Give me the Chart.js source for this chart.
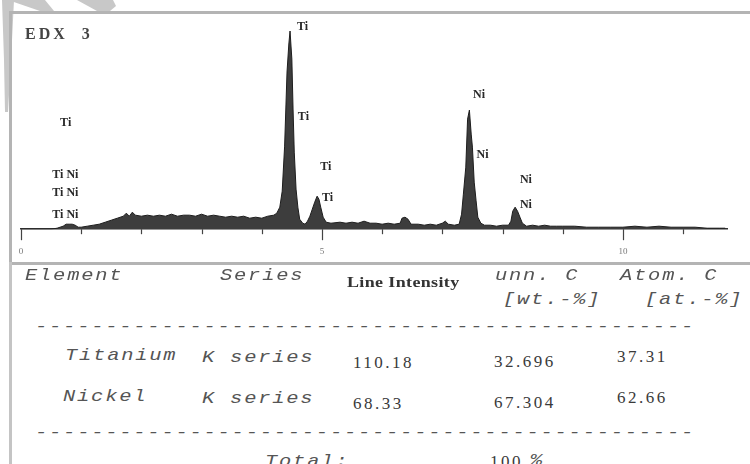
<!DOCTYPE html>
<html>
<head>
<meta charset="utf-8">
<script src="https://cdn.jsdelivr.net/npm/chart.js@4.4.1/dist/chart.umd.min.js"></script>
<style>
body { margin:0; width:750px; height:464px; overflow:hidden; background:#fff; position:relative; }
#frame { position:absolute; left:9px; top:11px; width:760px; height:248px; border:3px solid #b4b4b4; border-right:none; }
#tableLine { position:absolute; left:9px; top:262px; width:3px; height:210px; background:#c4c4c4; }
#wrap { position:absolute; left:0; top:0; width:750px; height:273px; }
#marks { position:absolute; left:0; top:0; }
.t { position:absolute; white-space:pre; color:#555; line-height:1; transform-origin:0 0; }
.mono { font-family:"Liberation Mono", monospace; font-style:italic; font-size:17px; letter-spacing:1.5px; transform:scaleX(1.2); }
.num { font-family:"Liberation Serif", serif; font-size:17px; letter-spacing:2.5px; color:#3a3a3a; }
.head { font-family:"Liberation Serif", serif; font-weight:bold; font-size:15px; letter-spacing:0.3px; color:#333; transform:scaleX(1.2); }
#title { left:25px; top:26px; font-family:"Liberation Serif", serif; font-weight:bold; font-size:16px; letter-spacing:3px; color:#444; }
</style>
</head>
<body>
<svg id="marks" width="130" height="120">
  <polygon points="2,0 14,0 11,60 8,112 5,112 4,60" fill="#c8c8c8"/>
  <polygon points="8,0 45,0 54,11 40,11" fill="#c8c8c8"/>
  <polygon points="77,0 113,0 116,6 110,11 97,11" fill="#c8c8c8"/>
</svg>
<div id="frame"></div>
<div id="tableLine"></div>
<div id="wrap"><canvas id="myChart"></canvas></div>
<div class="t" id="title">EDX  3</div>
<div id="table"></div>

<script>
// spectrum (energy in keV, counts in arbitrary units)
var energyKeV = [0.00, 0.50, 0.60, 0.70, 0.75, 0.80, 0.85, 0.90, 0.95, 1.00, 1.10, 1.20, 1.30, 1.40, 1.50, 1.60, 1.70, 1.75, 1.80, 1.85, 1.90,
	2.00, 2.10, 2.20, 2.30, 2.40, 2.50, 2.60, 2.70, 2.80, 2.90, 3.00, 3.10, 3.20, 3.30, 3.40, 3.50, 3.60, 3.70, 3.80, 3.90,
	4.00, 4.10, 4.20, 4.25, 4.30, 4.34, 4.38, 4.42, 4.45, 4.47, 4.50, 4.52, 4.54, 4.57, 4.60, 4.63, 4.68, 4.72, 4.76, 4.80,
	4.84, 4.88, 4.92, 4.95, 4.98, 5.02, 5.07, 5.15, 5.30, 5.40, 5.50, 5.60, 5.70, 5.80, 5.90, 6.00, 6.10, 6.20, 6.30, 6.33,
	6.38, 6.43, 6.48, 6.60, 6.70, 6.80, 6.90, 7.00, 7.05, 7.10, 7.20, 7.28, 7.32, 7.35, 7.39, 7.42, 7.45, 7.48, 7.50, 7.53,
	7.56, 7.59, 7.64, 7.70, 7.80, 7.90, 8.00, 8.10, 8.14, 8.17, 8.21, 8.25, 8.29, 8.33, 8.40, 8.50, 8.60, 8.70, 8.80, 8.90,
	9.00, 9.20, 9.40, 9.60, 9.80, 10.00, 10.20, 10.40, 10.60, 10.80, 11.00, 11.20, 11.40, 11.60, 11.70];
var counts = [0, 0, 1, 3, 5, 5, 5, 4, 2, 2, 3, 4, 5, 7, 9, 11, 13, 16, 13, 17, 14,
	13, 14, 13, 14, 13, 15, 13, 14, 14, 13, 15, 13, 14, 13, 12, 13, 12, 13, 11, 12,
	11, 13, 14, 16, 22, 38, 83, 157, 185, 198, 170, 120, 77, 40, 22, 10, 6, 5, 8, 13,
	20, 27, 33, 30, 22, 12, 7, 6, 7, 6, 7, 6, 8, 6, 6, 5, 6, 5, 6, 11,
	12, 10, 5, 5, 4, 5, 4, 6, 8, 5, 4, 5, 15, 35, 62, 110, 119, 95, 82, 47,
	29, 12, 6, 4, 4, 3, 4, 4, 8, 18, 22, 18, 12, 6, 3, 4, 3, 4, 3, 3,
	3, 3, 2, 2, 2, 2, 3, 2, 3, 2, 2, 2, 1, 1, 1];

var majorTicks = [0, 5, 10];
var minorTicks = [1, 2, 3, 4, 6, 7, 8, 9, 11];

// peak labels, anchored in energy / counts
var peakNames = ['Ti', 'Ti', 'Ti', 'Ti', 'Ti', 'Ti Ni', 'Ti Ni', 'Ti Ni', 'Ni', 'Ni', 'Ni', 'Ni'];
var peakEnergy = [4.585, 4.60, 4.97, 5.00, 0.65, 0.52, 0.52, 0.52, 7.51, 7.57, 8.29, 8.29];
var peakCount = [202, 112, 62, 31, 106, 54, 36, 14, 134, 74, 49, 24];

// quantification table
var headers = ['Element', 'Series', 'Line Intensity', 'unn. C', 'Atom. C'];
var units = ['[wt.-%]', '[at.-%]'];
var elements = ['Titanium', 'Nickel'];
var series = ['K series', 'K series'];
var lineIntensity = ['110.18', '68.33'];
var wtPercent = ['32.696', '67.304'];
var atPercent = ['37.31', '62.66'];
var totalWt = '100';

var peakText = {
	id: 'peakText',
	afterDatasetsDraw: function(chart) {
		var ctx = chart.ctx, x = chart.scales.x, y = chart.scales.y, area = chart.chartArea;
		ctx.save();
		ctx.strokeStyle = '#444';
		ctx.lineWidth = 1.2;
		// tick marks: long ones at 0, 5, 10, short ones every keV
		majorTicks.concat(minorTicks).forEach(function(v) {
			var px = Math.round(x.getPixelForValue(v)) + 0.5;
			var len = majorTicks.indexOf(v) >= 0 ? 11 : 5;
			ctx.beginPath();
			ctx.moveTo(px, area.bottom);
			ctx.lineTo(px, area.bottom + len);
			ctx.stroke();
		});
		ctx.font = 'bold 12px "Liberation Serif"';
		ctx.fillStyle = '#2a2a2a';
		ctx.textBaseline = 'middle';
		peakNames.forEach(function(t, i) {
			ctx.fillText(t, x.getPixelForValue(peakEnergy[i]), y.getPixelForValue(peakCount[i]));
		});
		ctx.restore();
	}
};

const ctx = document.getElementById('myChart').getContext('2d');
const myChart = new Chart(ctx, {
	type: 'line',
	data: {
		datasets: [{
			data: energyKeV.map(function(e, i) { return { x: e, y: counts[i] }; }),
			fill: 'origin',
			backgroundColor: '#3d3d3d',
			borderColor: '#1e1e1e',
			borderWidth: 1,
			pointRadius: 0,
			tension: 0
		}]
	},
	options: {
		responsive: true,
		maintainAspectRatio: false,
		animation: false,
		layout: { padding: { left: 21, right: 23, top: 20, bottom: 7 } },
		plugins: { legend: { display: false }, tooltip: { enabled: false } },
		scales: {
			x: {
				type: 'linear',
				min: 0,
				max: 11.73,
				border: { color: '#333', width: 1.5 },
				grid: { display: false },
				ticks: {
					stepSize: 1,
					autoSkip: false,
					includeBounds: false,
					maxRotation: 0,
					padding: 9,
					color: '#777',
					font: { size: 9, family: 'Liberation Serif' },
					callback: function(v) { return majorTicks.indexOf(v) >= 0 ? String(v) : ''; }
				}
			},
			y: { display: false, min: 0, max: 209 }
		}
	},
	plugins: [peakText]
});

// build the table as text
var tbl = document.getElementById('table');
function put(text, cls, left, top) {
	var d = document.createElement('div');
	d.className = 't ' + cls;
	d.textContent = text;
	d.style.left = left + 'px';
	d.style.top = top + 'px';
	tbl.appendChild(d);
}
put(headers[0], 'mono', 25, 267);
put(headers[1], 'mono', 220, 267);
put(headers[2], 'head', 347, 275);
put(headers[3], 'mono', 495, 267);
put(headers[4], 'mono', 620, 267);
put(units[0], 'mono', 503, 291);
put(units[1], 'mono', 645, 291);
var dashes = new Array(48).join('-');
put(dashes, 'mono', 35, 318);
var rowTop = [347, 388];
elements.forEach(function(el, i) {
	var t = rowTop[i];
	put(el, 'mono', 65 - 2 * i, t);
	put(series[i], 'mono', 202, t + 2);
	put(lineIntensity[i], 'num', 353, t + 7);
	put(wtPercent[i], 'num', 494, t + 6);
	put(atPercent[i], 'num', 617, t + 1);
});
put(dashes, 'mono', 35, 424);
put('Total:', 'mono', 265, 453);
put(totalWt, 'num', 490, 453);
put('%', 'mono', 530, 452);
</script>
</body>
</html>
